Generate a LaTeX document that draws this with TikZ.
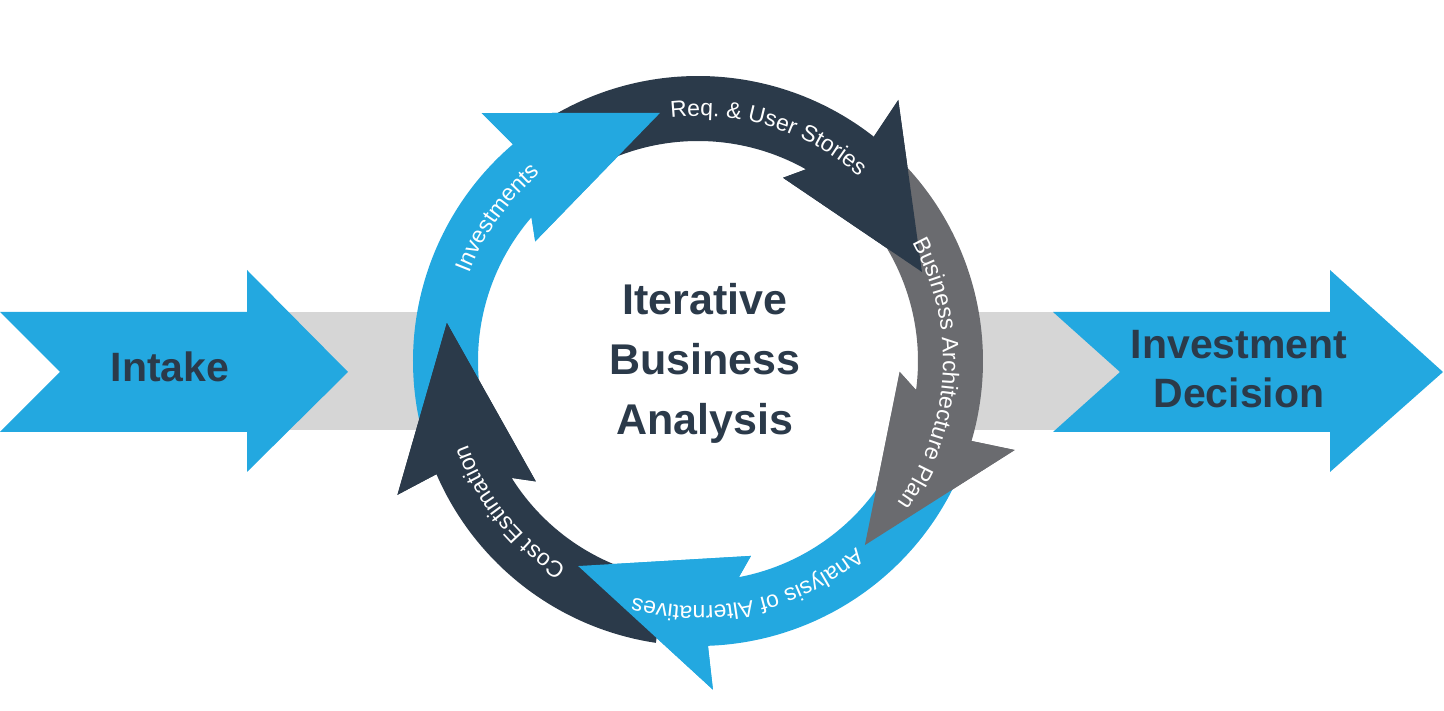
\documentclass[tikz,border=0pt]{standalone}
\usepackage{fontspec}
\setmainfont{Liberation Sans}
\usetikzlibrary{decorations.text}
\definecolor{ringblue}{RGB}{35,168,224}
\definecolor{ringnavy}{RGB}{43,58,74}
\definecolor{ringgray}{RGB}{106,107,111}
\definecolor{bandgray}{RGB}{214,214,214}
\newcommand{\arcfont}{\fontsize{23}{23}\selectfont}
\def\Rout{285}
\def\Rin{220}
% color, tail, notch, tip angle, tip radius
\newcommand{\ringarrow}[5]{%
  \fill[#1] (#2:\Rout) arc[start angle=#2, end angle=#3, radius=\Rout]
    -- ({#3+0.6}:329) -- (#4:#5) -- ({#3+13.2}:202) -- ({#3+8.7}:\Rin)
    arc[start angle={#3+8.7}, end angle=#2, radius=\Rin] -- cycle;}
% color, notch, tip angle, tip radius
\newcommand{\ringhead}[4]{%
  \fill[#1] (#2:\Rout) -- ({#2+0.6}:329) -- (#3:#4) -- ({#2+13.2}:202)
    -- ({#2+8.7}:\Rin) -- cycle;}
\tikzset{
  bigtxt/.style={font=\fontsize{41}{49}\selectfont\bfseries, text=ringnavy, inner sep=0pt, align=center},
  midtxt/.style={font=\fontsize{43}{60}\selectfont\bfseries, text=ringnavy, inner sep=0pt, align=center},
  arclabel/.style={decorate, decoration={text along path, text align=center, text color=white, text={|\arcfont|#1}}}
}
\begin{document}
\begin{tikzpicture}[x=1pt,y=1pt]
\useasboundingbox (0,0) rectangle (1444,711);
% band and side arrows
\fill[bandgray] (250,281) rectangle (1120,399);
\fill[ringblue] (0,399) -- (247,399) -- (247,441) -- (348,339) -- (247,239) -- (247,279) -- (0,279) -- (60,339) -- cycle;
\fill[ringblue] (1053,399) -- (1330,399) -- (1330,441) -- (1443,339) -- (1330,239) -- (1330,279) -- (1053,279) -- (1120,339) -- cycle;
\node[bigtxt, anchor=base] (intake) at (170,329) {Intake};
\node[bigtxt] (decision) at (1239,342) {Investment\\Decision};
% the cycle
\begin{scope}[shift={(698,350)}]
  \fill[white] (0,0) circle[radius=\Rin+2];
  \ringarrow{ringblue}{194}{130.5}{98.7}{251}
  \ringarrow{ringnavy}{121}{51.9}{21.7}{241}
  \ringarrow{ringgray}{42.5}{-16.3}{-47.8}{248.5}
  \ringarrow{ringblue}{-26}{-88}{-120.3}{237.5}
  \ringarrow{ringnavy}{-98.5}{-156.6}{-188.6}{254}
  % heads again, over the next tail
  \ringhead{ringblue}{130.5}{98.7}{251}
  \ringhead{ringnavy}{51.9}{21.7}{241}
  \ringhead{ringgray}{-16.3}{-47.8}{248.5}
  \ringhead{ringblue}{-88}{-120.3}{237.5}
  \ringhead{ringnavy}{-156.6}{-188.6}{254}
  % labels
  \path[arclabel={Investments}] (194.5:245) arc[start angle=194.5, end angle=94.5, radius=245];
  \path[arclabel={Req. {\&} User Stories}] (122.6:245) arc[start angle=122.6, end angle=22.6, radius=245];
  \path[arclabel={Business Architecture Plan}] (46.75:245) arc[start angle=46.75, end angle=-53.25, radius=245];
  \path[arclabel={Analysis of Alternatives}] (-27.5:245) arc[start angle=-27.5, end angle=-127.5, radius=245];
  \path[arclabel={Cost Estimation}] (-91.3:245) arc[start angle=-91.3, end angle=-191.3, radius=245];
  \node[midtxt] (iba) at (7,-2.3) {Iterative\\Business\\Analysis};
\end{scope}
\end{tikzpicture}
\end{document}
